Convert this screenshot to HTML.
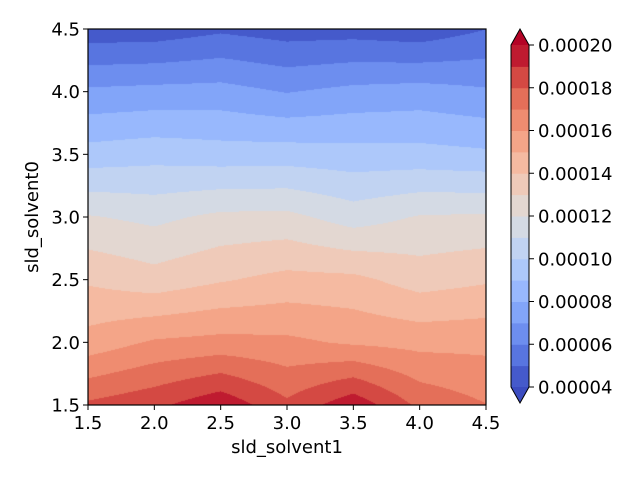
<!DOCTYPE html>
<html><head><meta charset="utf-8"><style>
body{margin:0;background:#fff;width:640px;height:480px;overflow:hidden;position:relative;font-family:"DejaVu Sans","Liberation Sans",sans-serif}
canvas{position:absolute;left:88px;top:29px}
svg{position:absolute;left:0;top:0}
text{font-family:"DejaVu Sans","Liberation Sans",sans-serif;font-size:18px;fill:#000}
</style></head><body>
<canvas id="plot" width="398" height="376"></canvas>
<svg id="ov" width="640" height="480"></svg>
<script>
// data (units of 1e-5)
const xs = [1.5, 2.0, 2.5, 3.0, 3.5, 4.0, 4.5];
const ys = [1.5, 2.0, 2.5, 3.0, 3.5, 4.0, 4.5];
const z0 = [18.19, 18.76, 19.75, 18.21, 19.7, 17.76, 17.03];
const z1 = [15.39, 16.13, 16.32, 16.22, 15.85, 15.68, 15.72];
const z2 = [13.86, 13.40, 13.90, 14.31, 14.25, 13.56, 13.87];
const z3 = [12.08, 11.75, 12.23, 12.28, 11.53, 12.08, 12.15];
const z4 = [9.42, 9.63, 9.46, 9.48, 9.38, 9.35, 9.18];
const z5 = [7.19, 7.32, 7.38, 6.95, 7.29, 7.43, 7.14];
const z6 = [4.37, 4.40, 4.82, 4.51, 4.55, 4.34, 4.99];
const Z = [z0, z1, z2, z3, z4, z5, z6];
const levels = [4,5,6,7,8,9,10,11,12,13,14,15,16,17,18,19,20];
const xTicks = ["1.5","2.0","2.5","3.0","3.5","4.0","4.5"];
const yTicks = ["1.5","2.0","2.5","3.0","3.5","4.0","4.5"];
const cbTicks = ["0.00004","0.00006","0.00008","0.00010","0.00012","0.00014","0.00016","0.00018","0.00020"];

const L=88,R=486,T=29,B=405;
const sx=v=>L+(v-1.5)/3*(R-L), sy=v=>B-(v-1.5)/3*(B-T);
const cw=[[0,[59,76,192]],[0.125,[98,130,234]],[0.25,[141,176,254]],[0.375,[184,208,249]],[0.5,[221,221,221]],[0.625,[245,196,173]],[0.75,[244,154,123]],[0.875,[222,96,77]],[1,[180,4,38]]];
function cmap(t){t=Math.max(0,Math.min(1,t));for(let i=1;i<cw.length;i++){if(t<=cw[i][0]){const a=cw[i-1],b=cw[i];const f=(t-a[0])/(b[0]-a[0]);return a[1].map((c,k)=>Math.round(c+(b[1][k]-c)*f));}}return cw[cw.length-1][1];}
const nb=levels.length-1, lo=levels[0], hi=levels[nb];
function bandColor(v){
  if(v<lo) return cmap(0); if(v>=hi) return cmap(1);
  let i=Math.min(nb-1,Math.floor((v-lo)/(hi-lo)*nb));
  const mid=(levels[i]+levels[i+1])/2; return cmap((mid-lo)/(hi-lo));
}
// raster
const cv=document.getElementById('plot'),ctx=cv.getContext('2d');
const W=cv.width,H=cv.height,img=ctx.createImageData(W,H);
for(let py=0;py<H;py++){
  const yv=1.5+(H-0.5-py)/H*3;
  let j=Math.min(ys.length-2,Math.floor((yv-ys[0])/(ys[1]-ys[0]))); const fy=(yv-ys[j])/(ys[j+1]-ys[j]);
  for(let px=0;px<W;px++){
    const xv=1.5+(px+0.5)/W*3;
    let i=Math.min(xs.length-2,Math.floor((xv-xs[0])/(xs[1]-xs[0]))); const fx=(xv-xs[i])/(xs[i+1]-xs[i]);
    const v=Z[j][i]*(1-fx)*(1-fy)+Z[j][i+1]*fx*(1-fy)+Z[j+1][i]*(1-fx)*fy+Z[j+1][i+1]*fx*fy;
    const c=bandColor(v),k=(py*W+px)*4; img.data[k]=c[0];img.data[k+1]=c[1];img.data[k+2]=c[2];img.data[k+3]=255;
  }
}
ctx.putImageData(img,0,0);

const svg=document.getElementById('ov'),NS='http://www.w3.org/2000/svg';
function mk(tag,at,txt){const e=document.createElementNS(NS,tag);for(const k in at)e.setAttribute(k,at[k]);if(txt!==undefined)e.textContent=txt;svg.appendChild(e);return e;}
let e=mk('rect',{x:L,y:T,width:R-L,height:B-T,fill:'none',stroke:'#000','stroke-width':1.2});


xTicks.forEach((t,i)=>{const x=sx(xs[i]);
  const l=mk('line',{x1:x,x2:x,y1:B,y2:B+5,stroke:'#000'});
  
  
  const tx=mk('text',{x:x,y:429,'text-anchor':'middle'},t);
  
  });
yTicks.forEach((t,i)=>{const y=sy(ys[i]);
  const l=mk('line',{x1:L-5,x2:L,y1:y,y2:y,stroke:'#000'});
  
  
  const tx=mk('text',{x:80,y:y+6.5,'text-anchor':'end'},t);
  
  });
e=mk('text',{x:(L+R)/2,y:453,'text-anchor':'middle'},'sld_solvent1');


e=mk('text',{x:38,y:(T+B)/2,'text-anchor':'middle',transform:`rotate(-90 38 ${(T+B)/2})`},'sld_solvent0');


// colorbar
const CL=511,CR=529,CT=45,CB=387,tipT=29,tipB=403;
const cy=v=>CB-(v-lo)/(hi-lo)*(CB-CT);
for(let i=0;i<nb;i++){const c=bandColor((levels[i]+levels[i+1])/2);
  const r=mk('rect',{x:CL,y:cy(levels[i+1]),width:CR-CL,height:cy(levels[i])-cy(levels[i+1])+0.5,fill:`rgb(${c})`});
  
  }
e=mk('polygon',{points:`${CL},${CT} ${(CL+CR)/2},${tipT} ${CR},${CT}`,fill:`rgb(${cmap(1)})`});


e=mk('polygon',{points:`${CL},${CB} ${(CL+CR)/2},${tipB} ${CR},${CB}`,fill:`rgb(${cmap(0)})`});


e=mk('polygon',{points:`${CL},${CT} ${(CL+CR)/2},${tipT} ${CR},${CT} ${CR},${CB} ${(CL+CR)/2},${tipB} ${CL},${CB}`,fill:'none',stroke:'#000','stroke-width':1});


cbTicks.forEach((t,i)=>{const y=cy(levels[0]+i*2);
  const l=mk('line',{x1:CR,x2:CR+5,y1:y,y2:y,stroke:'#000'});
  
  
  const tx=mk('text',{x:538,y:y+6.5},t);
  
  });
</script>
</body></html>
